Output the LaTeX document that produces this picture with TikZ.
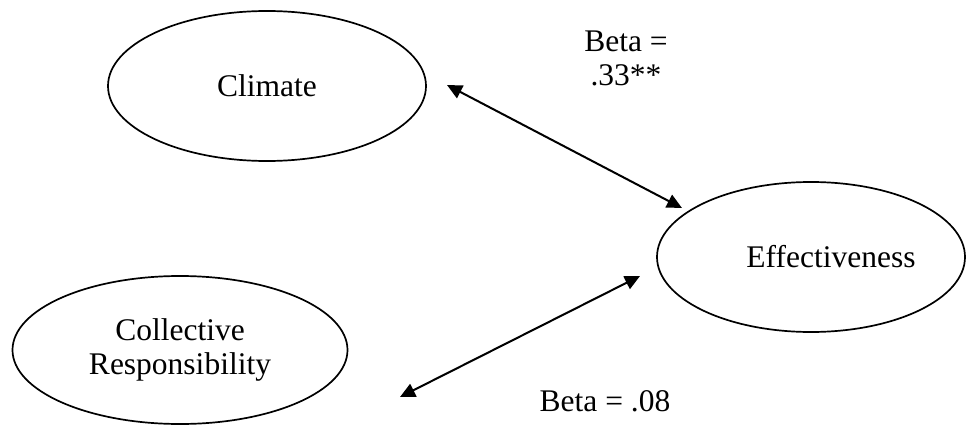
\documentclass[tikz,border=0pt]{standalone}
\usepackage{fontspec}
\setmainfont{Liberation Serif}
\usetikzlibrary{shapes.geometric,arrows.meta}
\tikzset{
  oval/.style={ellipse, draw=black, line width=1.7pt, inner sep=0pt},
  txt/.style={font={\fontsize{31.5}{34}\selectfont}, align=center, inner sep=0pt},
  link/.style={line width=2pt, {Triangle[length=15pt,width=14pt]}-{Triangle[length=15pt,width=14pt]}}
}
\begin{document}
\begin{tikzpicture}[x=1pt,y=-1pt]
\useasboundingbox (0,0) rectangle (966,428);
\node[oval, minimum width=318pt, minimum height=150pt, txt] (clim) at (267,86) {Climate};
\node[oval, minimum width=308pt, minimum height=150pt] (eff) at (811,257) {};
\node[txt] (efft) at (831,257) {Effectiveness};
\node[oval, minimum width=335pt, minimum height=148pt, txt] (coll) at (180,350) {Collective\\Responsibility};
\node[txt] (b1) at (626,58.5) {Beta =\\.33**};
\node[txt] (b2) at (605,401.5) {Beta = .08};
\coordinate (a1s) at (447,85);
\coordinate (a1e) at (682,208);
\coordinate (a2s) at (400,397);
\coordinate (a2e) at (640,276);
\draw[link] (a1s) -- (a1e);
\draw[link] (a2s) -- (a2e);
\end{tikzpicture}
\end{document}
